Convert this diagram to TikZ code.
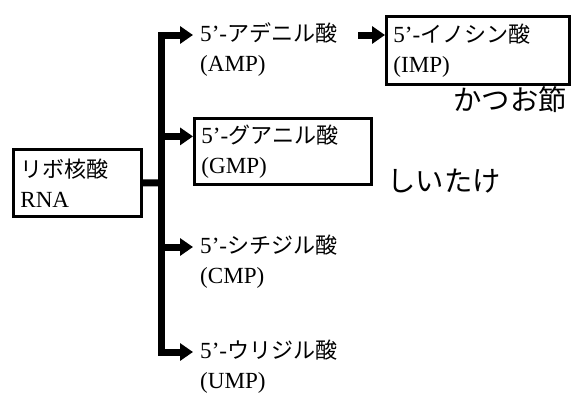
\documentclass[tikz,border=0pt]{standalone}
\usepackage{fontspec}
\setmainfont{Liberation Serif}[Scale=1.1]
\newfontfamily\jp{Noto Sans CJK JP}[Scale=1.05]
\usetikzlibrary{arrows.meta}
\begin{document}
\begin{tikzpicture}[x=1pt,y=-1pt,
  lab/.style={font=\fontsize{21}{30}\selectfont, align=left},
  txt/.style={lab, inner xsep=7pt, inner ysep=0pt, anchor=west},
  boxed/.style={lab, draw, line width=2.8pt, anchor=north west, inner ysep=0pt},
  big/.style={font=\jp\fontsize{27}{32}\selectfont, inner sep=0pt},
  trunk/.style={line width=7pt, line join=miter},
  link/.style={line width=7pt, line join=miter, -{Triangle[length=13pt,width=17pt]}}]
\useasboundingbox (0,0) rectangle (573,394);
\node[boxed, minimum width=128pt, text width=114pt, inner xsep=7pt, minimum height=67pt] (rna) at (12,148) {{\jp リボ核酸}\\RNA};
\node[txt] (amp) at (193,50) {5’-{\jp アデニル酸}\\(AMP)};
\node[boxed, minimum width=177pt, text width=163pt, inner xsep=7pt, minimum height=66pt] (gmp) at (193,117) {5’-{\jp グアニル酸}\\(GMP)};
\node[txt] (cmp) at (193,262) {5’-{\jp シチジル酸}\\(CMP)};
\node[txt] (ump) at (193,367) {5’-{\jp ウリジル酸}\\(UMP)};
\node[boxed, minimum width=183pt, text width=169pt, inner xsep=7pt, minimum height=68pt] (imp) at (385,15) {5’-{\jp イノシン酸}\\(IMP)};
\node[big] (katsuo) at (510,100) {かつお節};
\node[big] (shiitake) at (444,181) {しいたけ};
\coordinate (j) at (161,183);
\draw[trunk] (rna.east) -- (j);
\draw[link] (j) |- ([yshift=15pt]amp.west);
\draw[link] (j) |- ([yshift=15pt]gmp.west);
\draw[link] (j) |- ([yshift=15pt]cmp.west);
\draw[link] (j) |- ([yshift=15pt]ump.west);
\coordinate (s) at ([yshift=15pt]amp.east -| 358,0);
\draw[link] (s) -- (s -| imp.west);
\end{tikzpicture}
\end{document}
